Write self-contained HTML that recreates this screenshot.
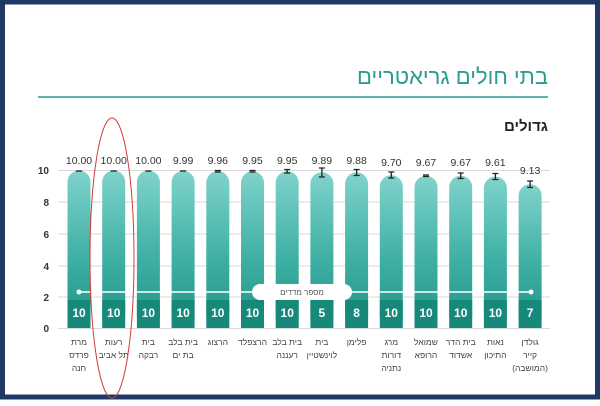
<!DOCTYPE html>
<html><head><meta charset="utf-8"><style>
html,body{margin:0;padding:0;background:#fff}
body{width:600px;height:401px;overflow:hidden}
</style></head><body>
<svg width="600" height="401" xmlns="http://www.w3.org/2000/svg" font-family="Liberation Sans, Noto Sans CJK SC, DejaVu Sans, sans-serif">
<defs>
<linearGradient id="tg" x1="0" y1="0" x2="0" y2="1">
<stop offset="0" stop-color="#80d3cb"/><stop offset="0.55" stop-color="#3fb0a4"/><stop offset="1" stop-color="#1f9486"/>
</linearGradient>
</defs>
<rect x="0" y="0" width="600" height="401" fill="#fff"/>
<rect x="2.5" y="2" width="595" height="395" fill="none" stroke="#1f3864" stroke-width="5"/>
<text x="548" y="84" text-anchor="end" font-size="22" fill="#2a9d93">בתי חולים גריאטריים</text>
<rect x="38" y="96" width="510" height="2" fill="#5bb5ad"/>
<text x="548" y="131" text-anchor="end" font-size="15" font-weight="bold" fill="#222">גדולים</text>
<g font-size="10" fill="#333" text-anchor="end" font-weight="bold">
<text x="49" y="174">10</text><text x="49" y="206">8</text><text x="49" y="238">6</text><text x="49" y="270">4</text><text x="49" y="301">2</text><text x="49" y="332">0</text>
</g>
<g stroke="#ccc" stroke-width="0.8">
<line x1="58" x2="550" y1="170.5" y2="170.5"/><line x1="58" x2="550" y1="202" y2="202"/><line x1="58" x2="550" y1="234" y2="234"/><line x1="58" x2="550" y1="266" y2="266"/><line x1="58" x2="550" y1="297" y2="297"/><line x1="58" x2="550" y1="328.5" y2="328.5"/>
</g>
<g fill="url(#tg)">
<rect x="67.5" y="170.5" width="23" height="157.5" rx="11.5"/>
<rect x="102.2" y="170.5" width="23" height="157.5" rx="11.5"/>
<rect x="136.9" y="170.5" width="23" height="157.5" rx="11.5"/>
<rect x="171.6" y="170.7" width="23" height="157.3" rx="11.5"/>
<rect x="206.3" y="171.1" width="23" height="156.9" rx="11.5"/>
<rect x="241" y="171.3" width="23" height="156.7" rx="11.5"/>
<rect x="275.7" y="171.3" width="23" height="156.7" rx="11.5"/>
<rect x="310.4" y="172.2" width="23" height="155.8" rx="11.5"/>
<rect x="345.1" y="172.4" width="23" height="155.6" rx="11.5"/>
<rect x="379.8" y="175.2" width="23" height="152.8" rx="11.5"/>
<rect x="414.5" y="175.7" width="23" height="152.3" rx="11.5"/>
<rect x="449.2" y="175.7" width="23" height="152.3" rx="11.5"/>
<rect x="483.9" y="176.6" width="23" height="151.4" rx="11.5"/>
<rect x="518.6" y="184.2" width="23" height="143.8" rx="11.5"/>
</g>
<g fill="#17897b">
<rect x="67.5" y="300" width="23" height="28"/><rect x="102.2" y="300" width="23" height="28"/><rect x="136.9" y="300" width="23" height="28"/><rect x="171.6" y="300" width="23" height="28"/><rect x="206.3" y="300" width="23" height="28"/><rect x="241" y="300" width="23" height="28"/><rect x="275.7" y="300" width="23" height="28"/><rect x="310.4" y="300" width="23" height="28"/><rect x="345.1" y="300" width="23" height="28"/><rect x="379.8" y="300" width="23" height="28"/><rect x="414.5" y="300" width="23" height="28"/><rect x="449.2" y="300" width="23" height="28"/><rect x="483.9" y="300" width="23" height="28"/><rect x="518.6" y="300" width="23" height="28"/>
</g>
<line x1="79" x2="531" y1="292" y2="292" stroke="#fff" stroke-width="1.5"/>
<circle cx="79" cy="292" r="2.5" fill="#fff"/><circle cx="531" cy="292" r="2.5" fill="#fff"/>
<rect x="252" y="284" width="100" height="16" rx="8" fill="#fff"/>
<text x="302" y="295" text-anchor="middle" font-size="8" fill="#555">מספר מדדים</text>
<g font-size="12" font-weight="bold" fill="#fff" text-anchor="middle">
<text x="79" y="317">10</text><text x="113.7" y="317">10</text><text x="148.4" y="317">10</text><text x="183.1" y="317">10</text><text x="217.8" y="317">10</text><text x="252.5" y="317">10</text><text x="287.2" y="317">10</text><text x="321.9" y="317">5</text><text x="356.6" y="317">8</text><text x="391.3" y="317">10</text><text x="426" y="317">10</text><text x="460.7" y="317">10</text><text x="495.4" y="317">10</text><text x="530.1" y="317">7</text>
</g>
<g stroke="#222" stroke-width="1.3">
<line x1="76" x2="82" y1="171" y2="171"/><line x1="110.7" x2="116.7" y1="171" y2="171"/><line x1="145.4" x2="151.4" y1="171" y2="171"/><line x1="180.1" x2="186.1" y1="171" y2="171"/>
<path d="M214.8 170.5h6M214.8 172h6"/>
<path d="M249.5 170.5h6M249.5 172h6"/>
<path d="M284.2 169.5h6M284.2 173h6M287.2 169.5v3.5"/>
<path d="M318.9 168h6M318.9 177h6M321.9 168v9"/>
<path d="M353.6 169.5h6M353.6 175.5h6M356.6 169.5v6"/>
<path d="M388.3 172h6M388.3 178h6M391.3 172v6"/>
<path d="M423 175h6M423 176.5h6"/>
<path d="M457.7 173h6M457.7 178.5h6M460.7 173v5.5"/>
<path d="M492.4 173.5h6M492.4 179.5h6M495.4 173.5v6"/>
<path d="M527.1 181h6M527.1 187.5h6M530.1 181v6.5"/>
</g>
<g font-size="10.5" fill="#333" text-anchor="middle">
<text x="79" y="164">10.00</text><text x="113.7" y="164">10.00</text><text x="148.4" y="164">10.00</text><text x="183.1" y="164">9.99</text><text x="217.8" y="164">9.96</text><text x="252.5" y="164">9.95</text><text x="287.2" y="164">9.95</text><text x="321.9" y="164">9.89</text><text x="356.6" y="164">9.88</text><text x="391.3" y="166">9.70</text><text x="426" y="166">9.67</text><text x="460.7" y="166">9.67</text><text x="495.4" y="166">9.61</text><text x="530.1" y="174">9.13</text>
</g>
<g font-size="8.5" fill="#444" text-anchor="middle">
<text x="79" y="345">מרת</text><text x="79" y="358">פרדס</text><text x="79" y="371">חנה</text>
<text x="113.7" y="345">רעות</text><text x="113.7" y="358">תל אביב</text>
<text x="148.4" y="345">בית</text><text x="148.4" y="358">רבקה</text>
<text x="183.1" y="345">בית בלב</text><text x="183.1" y="358">בת ים</text>
<text x="217.8" y="345">הרצוג</text>
<text x="252.5" y="345">הרצפלד</text>
<text x="287.2" y="345">בית בלב</text><text x="287.2" y="358">רעננה</text>
<text x="321.9" y="345">בית</text><text x="321.9" y="358">לוינשטיין</text>
<text x="356.6" y="345">פלימן</text>
<text x="391.3" y="345">מרג</text><text x="391.3" y="358">דורות</text><text x="391.3" y="371">נתניה</text>
<text x="426" y="345">שמואל</text><text x="426" y="358">הרופא</text>
<text x="460.7" y="345">בית הדר</text><text x="460.7" y="358">אשדוד</text>
<text x="495.4" y="345">נאות</text><text x="495.4" y="358">התיכון</text>
<text x="530.1" y="345">גולדן</text><text x="530.1" y="358">קייר</text><text x="530.1" y="371">(המושבה)</text>
</g>
<ellipse cx="112" cy="258" rx="22" ry="140" fill="none" stroke="#d23a3a" stroke-width="1"/>
</svg>
</body></html>
